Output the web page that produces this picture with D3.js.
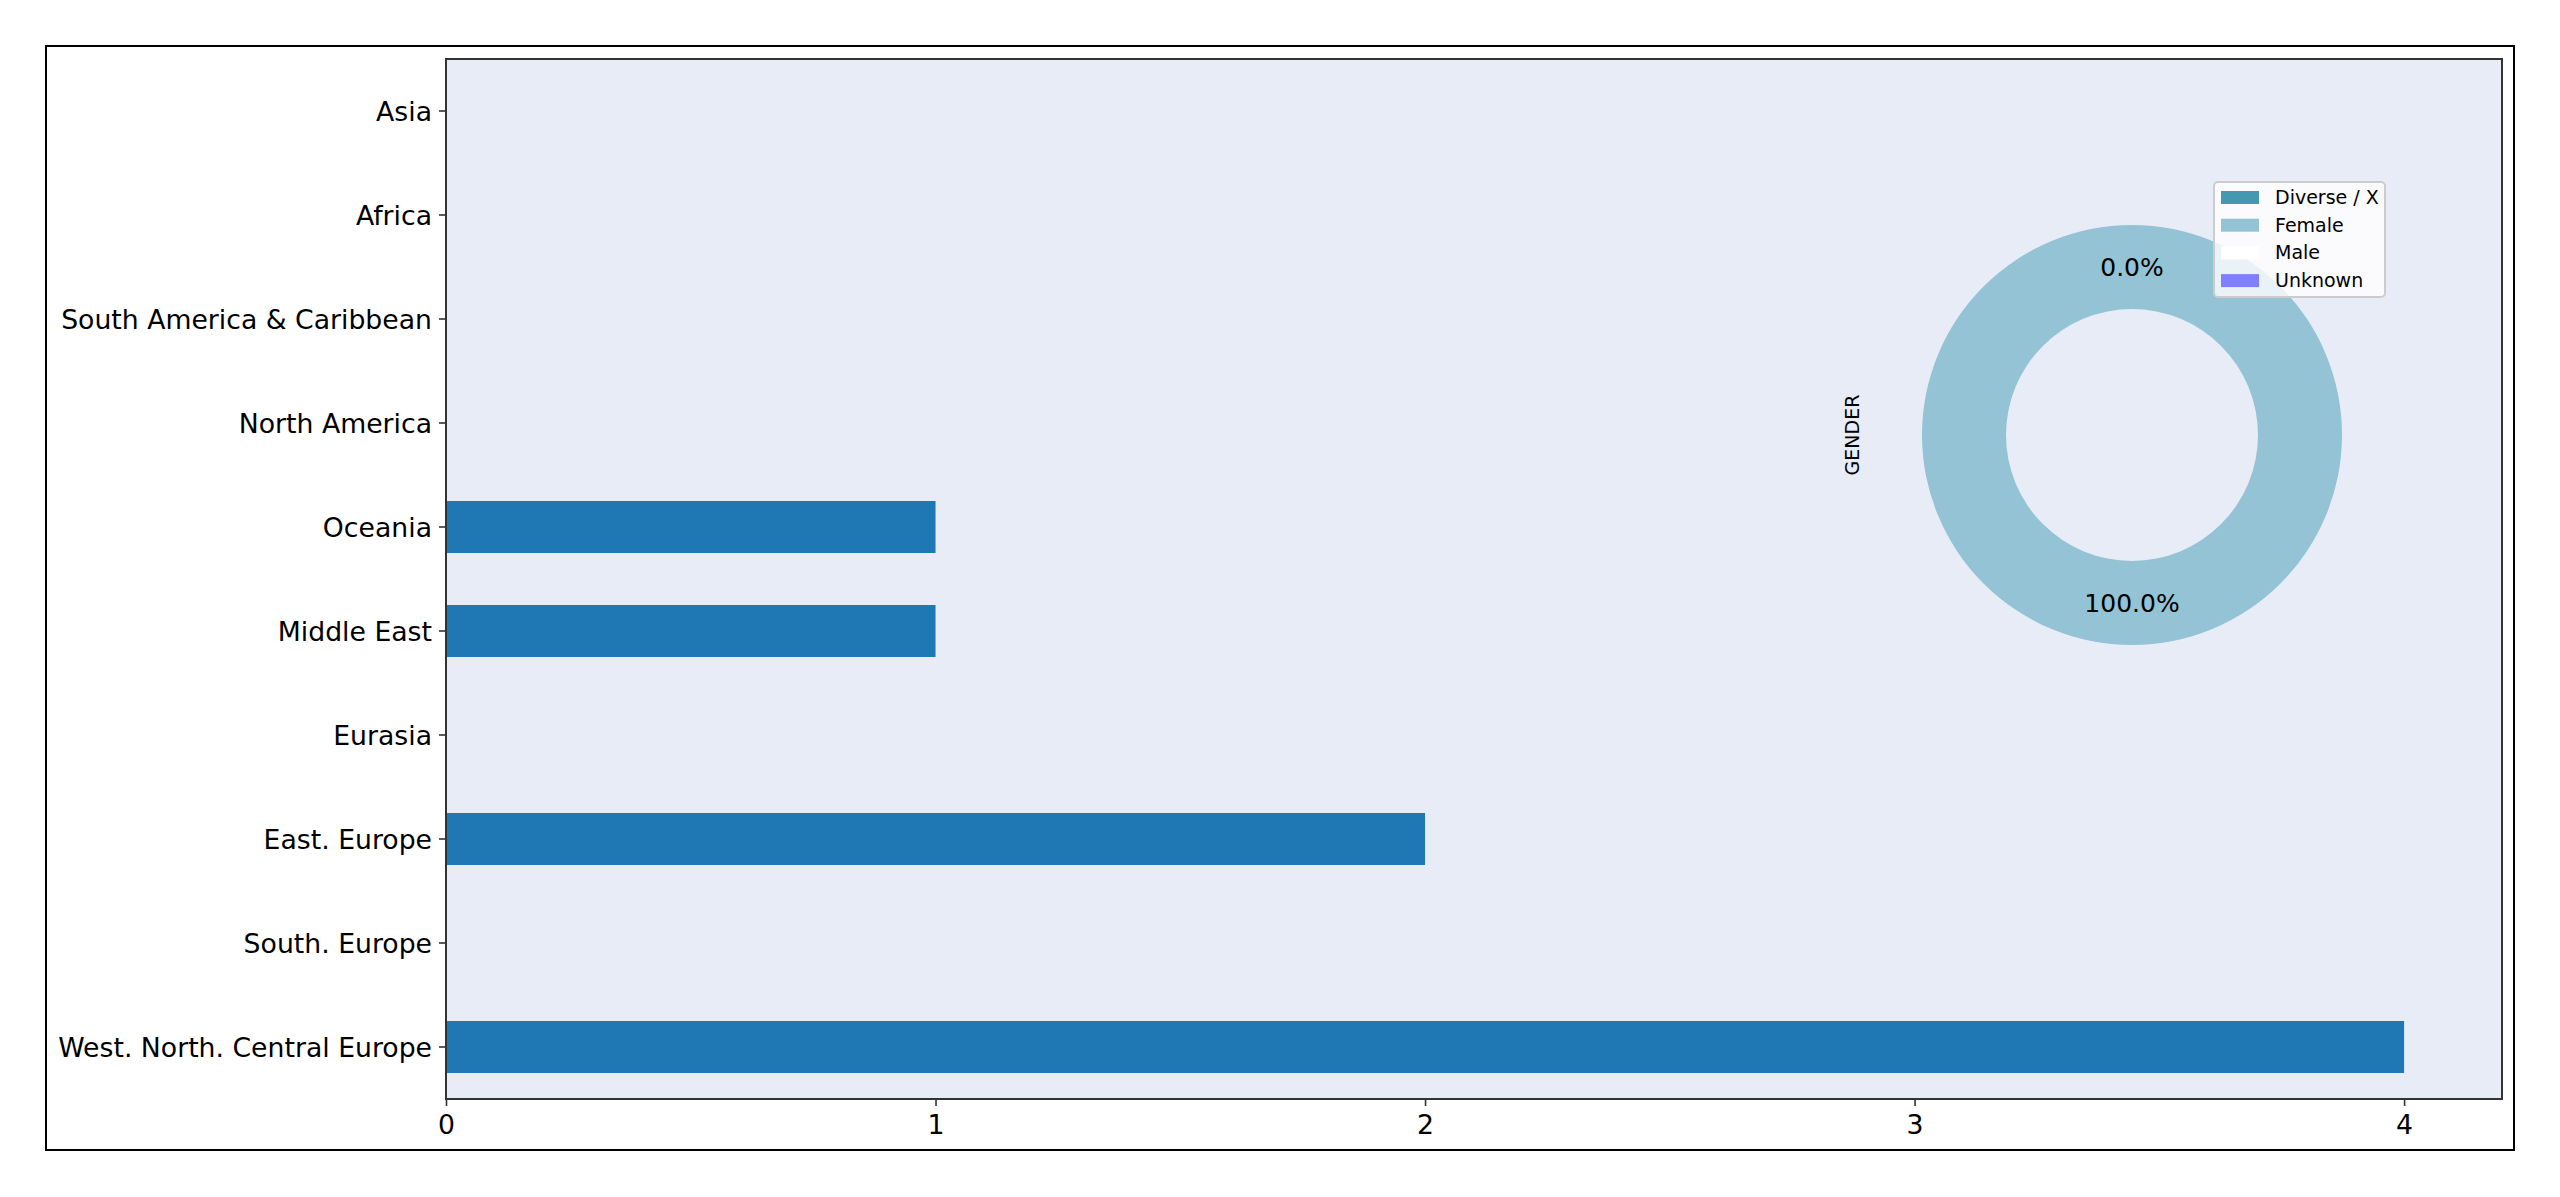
<!DOCTYPE html>
<html>
<head>
<meta charset="utf-8">
<script src="https://cdn.jsdelivr.net/npm/d3@7"></script>
<style>
  html, body { margin: 0; padding: 0; background: #ffffff; }
  svg { display: block; font-family: "DejaVu Sans", sans-serif; }
</style>
</head>
<body>
<svg id="chart" width="2560" height="1197"></svg>
<script>
// ---- data ----
const regions = ["Asia", "Africa", "South America & Caribbean", "North America", "Oceania",
                 "Middle East", "Eurasia", "East. Europe", "South. Europe", "West. North. Central Europe"];
const regionCounts = [0, 0, 0, 0, 1, 1, 0, 2, 0, 4];
const xTicks = [0, 1, 2, 3, 4];
const genders = ["Diverse / X", "Female", "Male", "Unknown"];
const genderCounts = [0, 8, 0, 0];
const genderColors = ["#4499b0", "#93c3d4", "#ffffff", "#8080ff"];
const pieTitle = "GENDER";

// ---- layout ----
const svg = d3.select("#chart");
const plot = { left: 446, right: 2502, top: 59, bottom: 1099 };

// outer frame
svg.append("rect").attr("x", 46).attr("y", 46).attr("width", 2514 - 46).attr("height", 1150 - 46)
  .attr("fill", "#ffffff").attr("stroke", "#000000").attr("stroke-width", 2);

// plot background
svg.append("rect").attr("x", plot.left).attr("y", plot.top)
  .attr("width", plot.right - plot.left).attr("height", plot.bottom - plot.top)
  .attr("fill", "#e8ecf6");

const x = d3.scaleLinear().domain([0, 4.2]).range([plot.left, plot.right]);
const y = d3.scaleBand().domain(regions).range([plot.top, plot.bottom]).paddingInner(0.5).paddingOuter(0.25);

// bars
svg.append("g").selectAll("rect").data(regions.map((r, i) => ({ r, v: regionCounts[i] })))
  .join("rect")
  .attr("x", x(0))
  .attr("y", d => y(d.r))
  .attr("width", d => x(d.v) - x(0))
  .attr("height", y.bandwidth())
  .attr("fill", "#1f77b4");

// axes
const xAxis = d3.axisBottom(x).tickValues(xTicks).tickFormat(d3.format("d")).tickSize(7).tickSizeOuter(0).tickPadding(9);
const gx = svg.append("g").attr("transform", `translate(0,${plot.bottom})`).call(xAxis);
gx.select(".domain").remove();
gx.selectAll("line").attr("stroke", "#333").attr("stroke-width", 1.6);
gx.selectAll("text").attr("font-size", 26.7).attr("fill", "#000").attr("font-family", "DejaVu Sans");

const yAxis = d3.axisLeft(y).tickSize(7).tickSizeOuter(0).tickPadding(7);
const gy = svg.append("g").attr("transform", `translate(${plot.left},0)`).call(yAxis);
gy.select(".domain").remove();
gy.selectAll("line").attr("stroke", "#333").attr("stroke-width", 1.6);
gy.selectAll("text").attr("font-size", 26.7).attr("dy", "0.37em").attr("fill", "#000").attr("font-family", "DejaVu Sans");

// plot frame (spines)
svg.append("rect").attr("x", plot.left).attr("y", plot.top)
  .attr("width", plot.right - plot.left).attr("height", plot.bottom - plot.top)
  .attr("fill", "none").attr("stroke", "#333").attr("stroke-width", 2);

// ---- donut ----
const cx = 2132, cy = 435, R = 210;
const pie = d3.pie().sort(null).startAngle(0).endAngle(-2 * Math.PI).value(d => d.v);
const arcs = pie(genders.map((g, i) => ({ g, v: genderCounts[i], c: genderColors[i] })));
const arc = d3.arc().innerRadius(R * 0.6).outerRadius(R);
const gPie = svg.append("g").attr("transform", `translate(${cx},${cy})`);
gPie.selectAll("path").data(arcs).join("path")
  .attr("d", arc).attr("fill", d => d.data.c);

const total = d3.sum(genderCounts);
const labelArc = d3.arc().innerRadius(R * 0.8).outerRadius(R * 0.8);
const seen = new Set();
const labels = arcs.filter(d => {
  const key = (100 * d.data.v / total).toFixed(1) + "@" + labelArc.centroid(d).map(v => Math.round(v)).join(",");
  if (seen.has(key)) return false;
  seen.add(key);
  return true;
});
gPie.selectAll("text").data(labels).join("text")
  .attr("transform", d => `translate(${labelArc.centroid(d)})`)
  .attr("text-anchor", "middle").attr("dominant-baseline", "central")
  .attr("font-size", 25).attr("fill", "#000")
  .text(d => (100 * d.data.v / total).toFixed(1) + "%");

svg.append("text").attr("transform", `translate(1852,${cy}) rotate(-90)`)
  .attr("text-anchor", "middle").attr("dominant-baseline", "central")
  .attr("font-size", 19).attr("fill", "#000").text(pieTitle);

// legend
const lg = svg.append("g").attr("transform", "translate(2214,182)");
lg.append("rect").attr("width", 171).attr("height", 115).attr("rx", 4)
  .attr("fill", "#ffffff").attr("fill-opacity", 0.8).attr("stroke", "#cccccc").attr("stroke-width", 2);
const items = lg.selectAll("g.item").data(genders).join("g").attr("class", "item")
  .attr("transform", (d, i) => `translate(0,${15 + i * 27.7})`);
items.append("rect").attr("x", 7).attr("y", -6).attr("width", 38).attr("height", 13)
  .attr("fill", (d, i) => genderColors[i]);
items.append("text").attr("x", 61).attr("y", 0).attr("dominant-baseline", "central")
  .attr("font-size", 19).attr("fill", "#000").text(d => d);
</script>
</body>
</html>
